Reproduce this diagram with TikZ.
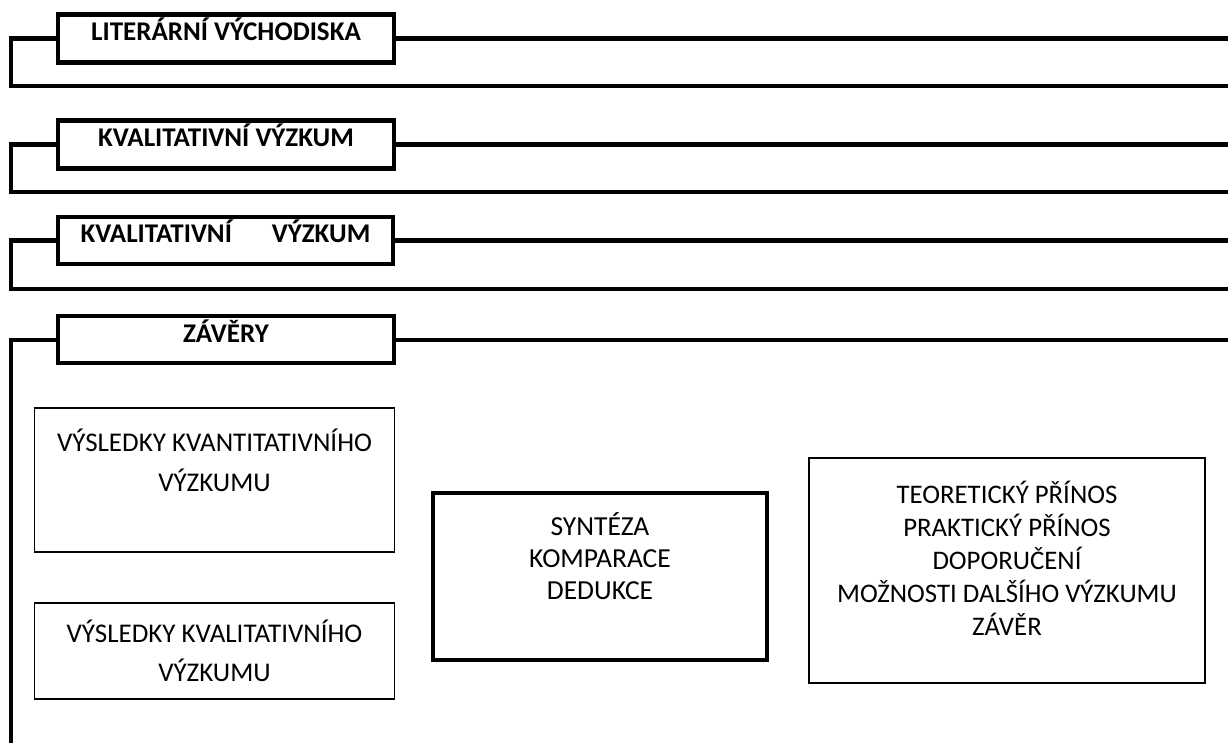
\documentclass[tikz,border=0pt]{standalone}
\usepackage{fontspec}
\setmainfont{Carlito}
\usetikzlibrary{positioning}

\tikzset{
  partbox/.style={draw, line width=4.5pt, fill=white, inner sep=0pt,
    minimum width=336pt, minimum height=48pt, text height=10pt, text depth=5pt,
    font=\fontsize{27}{31}\selectfont\bfseries},
  partline/.style={line width=4.5pt},
  resbox/.style={draw, line width=1.3pt, inner sep=0pt, align=center,
    minimum width=360pt, font=\fontsize{27}{39.5}\selectfont},
  synbox/.style={draw, line width=3.8pt, inner sep=0pt, align=center,
    font=\fontsize{27.5}{32}\selectfont},
  gainbox/.style={draw, line width=1.3pt, inner sep=0pt, align=center,
    font=\fontsize{26.8}{33}\selectfont},
}

\begin{document}
\begin{tikzpicture}[x=1pt, y=-1pt]
  \useasboundingbox (0,0) rectangle (1228,743);

  % headings of the four parts
  \node[partbox] (lit) at (226,38.5) {LITERÁRNÍ VÝCHODISKA};
  \node[partbox] (kvant) at (226,144.5) {KVALITATIVNÍ VÝZKUM};
  \node[partbox, minimum width=335pt, minimum height=47pt] (kval) at (225.5,240.5) {KVALITATIVNÍ\hspace{40pt}VÝZKUM};
  \node[partbox, line width=4pt, minimum height=47pt] (zav) at (226,339.5) {ZÁVĚRY};

  \coordinate (litR) at (1230,38.5);   \coordinate (litC) at (11,86);   \coordinate (litE) at (1230,86);
  \coordinate (kvantR) at (1230,144.5); \coordinate (kvantC) at (11,192); \coordinate (kvantE) at (1230,192);
  \coordinate (kvalR) at (1230,240.5); \coordinate (kvalC) at (11,289); \coordinate (kvalE) at (1230,289);
  \coordinate (zavR) at (1230,339.5);  \coordinate (zavC) at (11,745);

  \draw[partline] (lit.east) -- (litR);
  \draw[partline] (lit.west) -| (litC) -- (litE);
  \draw[partline] (kvant.east) -- (kvantR);
  \draw[partline] (kvant.west) -| (kvantC) -- (kvantE);
  \draw[partline] (kval.east) -- (kvalR);
  \draw[partline] (kval.west) -| (kvalC) -- (kvalE);
  \draw[partline, line width=4pt] (zav.east) -- (zavR);
  \draw[partline, line width=4pt] (zav.west) -| (zavC);

  % content of the conclusions
  \node[resbox, minimum height=144pt] (vysKvant) at (214.5,480) {VÝSLEDKY KVANTITATIVNÍHO\\VÝZKUMU\\[0pt]\mbox{}};
  \node[resbox, minimum height=96pt] (vysKval) at (214.5,651) {VÝSLEDKY KVALITATIVNÍHO\\VÝZKUMU};
  \node[synbox, minimum width=334pt, minimum height=167pt] (synteza) at (600,576.5) {SYNTÉZA\\KOMPARACE\\DEDUKCE\\[9pt]\mbox{}};
  \node[gainbox, minimum width=396pt, minimum height=225pt] (prinos) at (1007,570.5) {TEORETICKÝ PŘÍNOS\\PRAKTICKÝ PŘÍNOS\\DOPORUČENÍ\\MOŽNOSTI DALŠÍHO VÝZKUMU\\ZÁVĚR\\[-9pt]\mbox{}};
\end{tikzpicture}
\end{document}
